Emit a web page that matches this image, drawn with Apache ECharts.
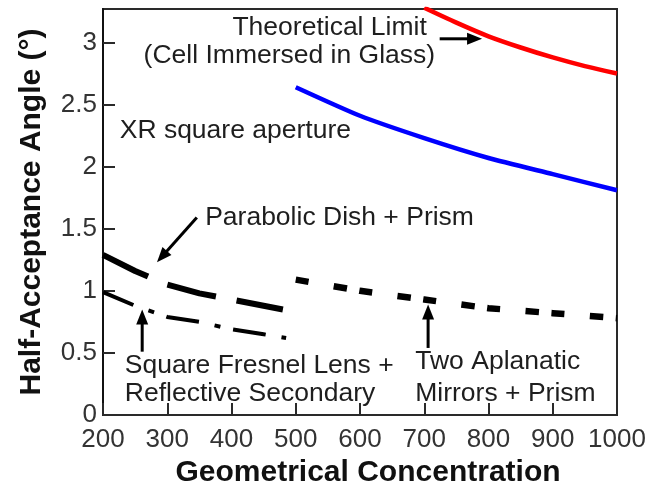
<!DOCTYPE html>
<html>
<head>
<meta charset="utf-8">
<script src="https://cdn.jsdelivr.net/npm/echarts@6/dist/echarts.min.js"></script>
<style>
  html, body { margin: 0; padding: 0; background: #fff; }
  #chart { width: 650px; height: 488px; }
</style>
</head>
<body>
<div id="chart"></div>
<script>
// Half-acceptance angle vs geometrical concentration for several concentrator designs
const theoryX = [700, 750, 800, 850, 900, 950, 1000];
const theoryY = [3.28, 3.16, 3.05, 2.96, 2.88, 2.81, 2.75];

const xrX = [500, 600, 700, 800, 900, 1000];
const xrY = [2.64, 2.41, 2.23, 2.07, 1.94, 1.81];

const dishX = [200, 250, 300, 350, 400, 480];
const dishY = [1.29, 1.16, 1.05, 0.98, 0.93, 0.85];

const fresnelX = [200, 250, 300, 350, 400, 450, 485];
const fresnelY = [0.99, 0.88, 0.79, 0.75, 0.69, 0.65, 0.62];

const aplanaticX = [500, 600, 700, 800, 900, 1000];
const aplanaticY = [1.09, 1.00, 0.93, 0.86, 0.82, 0.78];

const xName = 'Geometrical Concentration';
const yName = 'Half-Acceptance Angle (°)';

// annotation texts: [text, x, y, align] in data units
const notes = [
  ['Theoretical Limit', 704, 3.12, 'right'],
  ['(Cell Immersed in Glass)', 717, 2.89, 'right'],
  ['XR square aperture', 226, 2.29, 'left'],
  ['Parabolic Dish + Prism', 359, 1.59, 'left'],
  ['Square Fresnel Lens +', 234, 0.40, 'left'],
  ['Reflective Secondary', 234, 0.17, 'left'],
  ['Two Aplanatic', 686, 0.43, 'left'],
  ['Mirrors + Prism', 686, 0.17, 'left']
];

// pointer arrows: [from, to] in data units
const pointers = [
  [[724, 3.03], [790, 3.03]],
  [[346, 1.59], [284, 1.23]],
  [[261, 0.51], [261, 0.85]],
  [[706, 0.54], [706, 0.89]]
];

const zip = (xs, ys) => xs.map((x, i) => [x, ys[i]]);

const textFont = "'Liberation Sans', Arial, sans-serif";

const chart = echarts.init(document.getElementById('chart'), null, { renderer: 'canvas' });

chart.setOption({
  animation: false,
  backgroundColor: '#fff',
  grid: {
    left: 103, right: 33, top: 9, bottom: 73,
    show: true, borderColor: '#2a2a2a', borderWidth: 2,
    containLabel: false, outerBoundsMode: 'none'
  },
  xAxis: {
    type: 'value', min: 200, max: 1000, interval: 100,
    name: xName, nameLocation: 'middle', nameGap: 38,
    nameTextStyle: { fontFamily: textFont, fontSize: 30, fontWeight: 'bold', color: '#111', padding: [0, 0, 0, 16] },
    axisLine: { show: true, lineStyle: { color: '#2a2a2a', width: 2 } },
    axisTick: { show: true, inside: true, length: 12, lineStyle: { color: '#2a2a2a', width: 2 } },
    axisLabel: { fontFamily: textFont, fontSize: 26, color: '#333', margin: 12, formatter: v => String(v) },
    splitLine: { show: false }
  },
  yAxis: {
    type: 'value', min: 0, max: 3.27, interval: 0.5,
    name: yName, nameLocation: 'middle', nameGap: 56,
    nameTextStyle: { fontFamily: textFont, fontSize: 30, fontWeight: 'bold', color: '#111' },
    axisLine: { show: true, lineStyle: { color: '#111', width: 2 } },
    axisTick: { show: true, inside: true, length: 12, lineStyle: { color: '#2a2a2a', width: 2 } },
    axisLabel: { fontFamily: textFont, fontSize: 26, color: '#333', margin: 6, showMaxLabel: false },
    splitLine: { show: false }
  },
  series: [
    { name: 'Theoretical Limit', type: 'line', data: zip(theoryX, theoryY), showSymbol: false, smooth: 0.3,
      lineStyle: { color: '#ff0000', width: 4.5 } },
    { name: 'XR square aperture', type: 'line', data: zip(xrX, xrY), showSymbol: false, smooth: 0.2,
      lineStyle: { color: '#0000ff', width: 4.5 } },
    { name: 'Parabolic Dish + Prism', type: 'line', data: zip(dishX, dishY), showSymbol: false,
      lineStyle: { color: '#000', width: 6, type: [50, 21], cap: 'butt' } },
    { name: 'Square Fresnel Lens + Reflective Secondary', type: 'line', data: zip(fresnelX, fresnelY), showSymbol: false,
      lineStyle: { color: '#000', width: 4, type: [33, 16, 6, 13], cap: 'butt' } },
    { name: 'Two Aplanatic Mirrors + Prism', type: 'line', data: zip(aplanaticX, aplanaticY), showSymbol: false,
      lineStyle: { color: '#000', width: 6.5, type: [13, 25.5, 13.5, 12.5], cap: 'butt' } }
  ]
});

// annotation layer, placed through the grid's coordinate system
function toPx(p) { return chart.convertToPixel({ gridIndex: 0 }, p); }

const graphics = [];
notes.forEach(([text, x, y, align]) => {
  const p = toPx([x, y]);
  graphics.push({
    type: 'text', x: p[0], y: p[1], z: 10,
    style: { text, fontFamily: textFont, fontSize: 26.5, fill: '#1e1e1e', align, verticalAlign: 'middle' }
  });
});
pointers.forEach(([from, to]) => {
  const a = toPx(from), b = toPx(to);
  const dx = b[0] - a[0], dy = b[1] - a[1];
  const len = Math.hypot(dx, dy);
  const ux = dx / len, uy = dy / len;
  const headLen = 15, headHalf = 6;
  const bx = b[0] - ux * headLen, by = b[1] - uy * headLen;
  graphics.push({
    type: 'line', z: 10,
    shape: { x1: a[0], y1: a[1], x2: bx + ux * 2, y2: by + uy * 2 },
    style: { stroke: '#000', lineWidth: 3 }
  });
  graphics.push({
    type: 'polygon', z: 10,
    shape: { points: [[b[0], b[1]], [bx - uy * headHalf, by + ux * headHalf], [bx + uy * headHalf, by - ux * headHalf]] },
    style: { fill: '#000' }
  });
});
chart.setOption({ graphic: graphics });
</script>
</body>
</html>
